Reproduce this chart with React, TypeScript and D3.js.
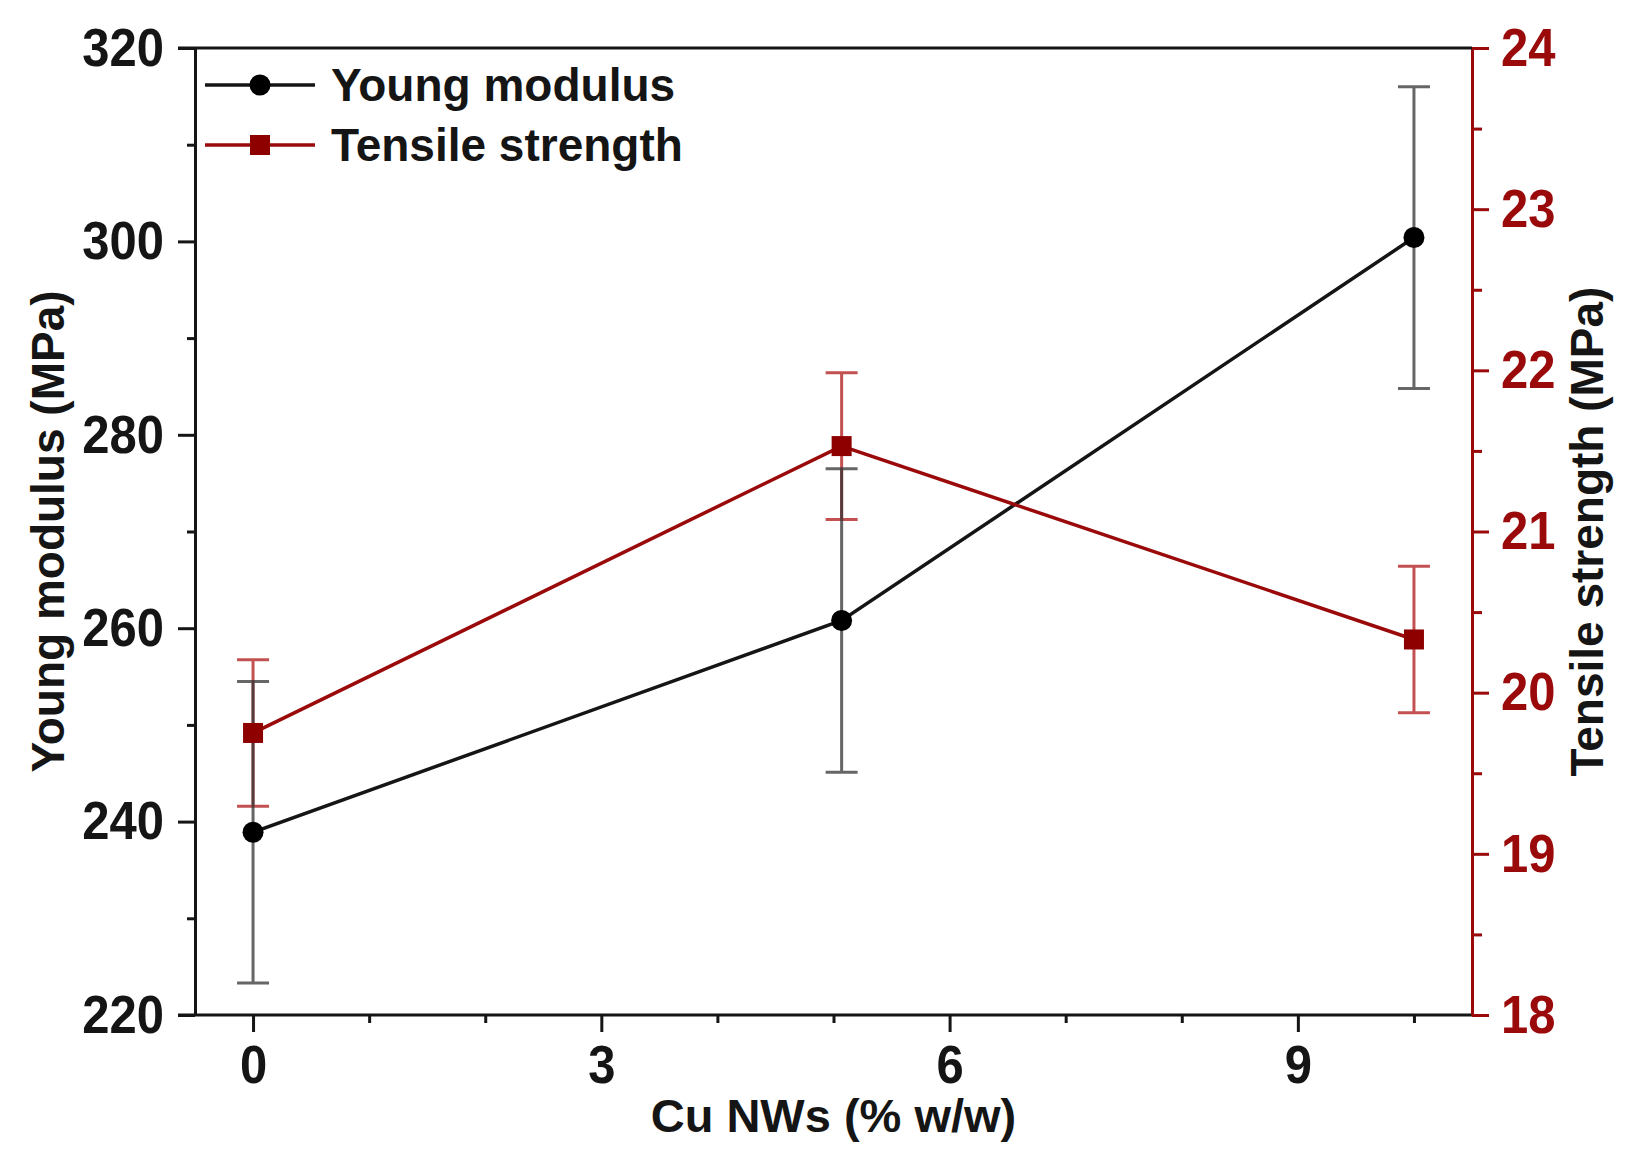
import * as d3 from "d3";
import { useEffect, useRef } from "react";

// Cu NWs content (% w/w)
const loadings = [0, 5.07, 10];
// Young modulus (MPa) and its error
const youngModulus = [238.9, 260.8, 300.4];
const youngErr = [15.6, 15.7, 15.6];
// Tensile strength (MPa) and its error
const tensileStrength = [19.75, 21.53, 20.33];
const tensileErr = [0.455, 0.455, 0.455];

const xTicks = [0, 3, 6, 9];
const xMinorTicks = [1, 2, 4, 5, 7, 8, 10];
const leftTicks = [220, 240, 260, 280, 300, 320];
const leftMinorTicks = [230, 250, 270, 290, 310];
const rightTicks = [18, 19, 20, 21, 22, 23, 24];
const rightMinorTicks = [18.5, 19.5, 20.5, 21.5, 22.5, 23.5];

const RED = "#9a0a0a";
const INK = "#151515";
const FONT = "'Liberation Sans', Arial, sans-serif";

export default function App() {
  const svgRef = useRef<SVGSVGElement>(null);

  useEffect(() => {
    document.body.style.margin = "0";
    render();
  }, []);

  const render = () => {
    const W = 1640;
    const H = 1164;
    const margin = { left: 195, right: 1640 - 1472, top: 48, bottom: 1164 - 1015 };
    const svg = d3.select(svgRef.current).attr("width", W).attr("height", H);
    svg.selectAll("*").remove();

    const bottom = H - margin.bottom;
    const right = W - margin.right;

    const x = d3.scaleLinear().domain([-0.5, 10.5]).range([margin.left, right]);
    const yL = d3.scaleLinear().domain([220, 320]).range([bottom, margin.top]);
    const yR = d3.scaleLinear().domain([18, 24]).range([bottom, margin.top]);

    const styleAxis = (g: d3.Selection<SVGGElement, unknown, null, undefined>, color: string, textColor: string) => {
      g.select(".domain").attr("stroke", color).attr("stroke-width", 3);
      g.selectAll(".tick line").attr("stroke", color).attr("stroke-width", 3);
      // 원본 글꼴이 세로로 조금 길어서 살짝 늘림
      g.selectAll(".tick text")
        .attr("font-family", FONT)
        .attr("font-weight", "bold")
        .attr("font-size", 49)
        .attr("transform", "scale(1,1.1)")
        .attr("fill", textColor);
    };
    const minor = (g: d3.Selection<SVGGElement, unknown, null, undefined>, color: string) => {
      g.select(".domain").remove();
      g.selectAll(".tick line").attr("stroke", color).attr("stroke-width", 3);
    };

    // x축
    const gx = svg
      .append("g")
      .attr("transform", `translate(0,${bottom})`)
      .call(d3.axisBottom(x).tickValues(xTicks).tickSize(17).tickPadding(10).tickSizeOuter(0).tickFormat(d3.format("d")));
    styleAxis(gx, INK, INK);
    gx.select(".domain").attr("d", `M${margin.left - 17},0H${right}`);
    minor(
      svg
        .append("g")
        .attr("transform", `translate(0,${bottom})`)
        .call(d3.axisBottom(x).tickValues(xMinorTicks).tickSize(8).tickFormat(() => "")),
      INK
    );

    // 왼쪽 y축
    const gl = svg
      .append("g")
      .attr("transform", `translate(${margin.left},0)`)
      .call(d3.axisLeft(yL).tickValues(leftTicks).tickSize(17).tickPadding(14).tickSizeOuter(0));
    styleAxis(gl, INK, INK);
    minor(
      svg
        .append("g")
        .attr("transform", `translate(${margin.left},0)`)
        .call(d3.axisLeft(yL).tickValues(leftMinorTicks).tickSize(8).tickFormat(() => "")),
      INK
    );

    // 오른쪽 y축
    const gr = svg
      .append("g")
      .attr("transform", `translate(${right},0)`)
      .call(d3.axisRight(yR).tickValues(rightTicks).tickSize(17).tickPadding(12).tickSizeOuter(0).tickFormat(d3.format("d")));
    styleAxis(gr, RED, RED);
    minor(
      svg
        .append("g")
        .attr("transform", `translate(${right},0)`)
        .call(d3.axisRight(yR).tickValues(rightMinorTicks).tickSize(10).tickFormat(() => "")),
      RED
    );

    // top frame line
    svg
      .append("line")
      .attr("x1", margin.left - 17)
      .attr("x2", right)
      .attr("y1", margin.top)
      .attr("y2", margin.top)
      .attr("stroke", INK)
      .attr("stroke-width", 3);

    // 에러바
    const cap = 16;
    const drawErr = (vals: number[], errs: number[], y: d3.ScaleLinear<number, number>, color: string) => {
      const g = svg.append("g").attr("stroke", color).attr("stroke-width", 3).attr("opacity", 0.75);
      vals.forEach((v, i) => {
        const cx = x(loadings[i]);
        g.append("line").attr("x1", cx).attr("x2", cx).attr("y1", y(v - errs[i])).attr("y2", y(v + errs[i]));
        g.append("line").attr("x1", cx - cap).attr("x2", cx + cap).attr("y1", y(v - errs[i])).attr("y2", y(v - errs[i]));
        g.append("line").attr("x1", cx - cap).attr("x2", cx + cap).attr("y1", y(v + errs[i])).attr("y2", y(v + errs[i]));
      });
    };
    drawErr(tensileStrength, tensileErr, yR, "#b01818");
    drawErr(youngModulus, youngErr, yL, "#333");

    // 선
    const lineL = d3.line<number>().x((d, i) => x(loadings[i])).y((d) => yL(d));
    const lineR = d3.line<number>().x((d, i) => x(loadings[i])).y((d) => yR(d));
    svg.append("path").attr("d", lineL(youngModulus)).attr("fill", "none").attr("stroke", INK).attr("stroke-width", 3.5);
    svg.append("path").attr("d", lineR(tensileStrength)).attr("fill", "none").attr("stroke", RED).attr("stroke-width", 3.5);

    svg
      .append("g")
      .selectAll("circle")
      .data(youngModulus)
      .join("circle")
      .attr("cx", (d, i) => x(loadings[i]))
      .attr("cy", (d) => yL(d))
      .attr("r", 10.5)
      .attr("fill", "#000");
    svg
      .append("g")
      .selectAll("rect")
      .data(tensileStrength)
      .join("rect")
      .attr("x", (d, i) => x(loadings[i]) - 10)
      .attr("y", (d) => yR(d) - 10)
      .attr("width", 20)
      .attr("height", 20)
      .attr("fill", "#8e0000");

    // 범례
    const legend = svg.append("g");
    const rows = [
      { label: "Young modulus", color: INK, shape: "circle", y: 85 },
      { label: "Tensile strength", color: RED, shape: "rect", y: 145 },
    ];
    rows.forEach((r) => {
      legend.append("line").attr("x1", 205).attr("x2", 315).attr("y1", r.y).attr("y2", r.y).attr("stroke", r.color).attr("stroke-width", 3.5);
      if (r.shape === "circle") {
        legend.append("circle").attr("cx", 260).attr("cy", r.y).attr("r", 10.5).attr("fill", "#000");
      } else {
        legend.append("rect").attr("x", 250).attr("y", r.y - 10).attr("width", 20).attr("height", 20).attr("fill", "#8e0000");
      }
      legend
        .append("text")
        .attr("x", 331)
        .attr("y", r.y + 16)
        .attr("font-family", FONT)
        .attr("font-weight", "bold")
        .attr("font-size", 46)
        .attr("fill", INK)
        .text(r.label);
    });

    // 축 제목
    svg
      .append("text")
      .attr("x", (margin.left + right) / 2)
      .attr("y", 1132)
      .attr("text-anchor", "middle")
      .attr("font-family", FONT)
      .attr("font-weight", "bold")
      .attr("font-size", 47)
      .attr("fill", INK)
      .text("Cu NWs (% w/w)");
    svg
      .append("text")
      .attr("transform", `translate(64,${(margin.top + bottom) / 2}) rotate(-90)`)
      .attr("text-anchor", "middle")
      .attr("font-family", FONT)
      .attr("font-weight", "bold")
      .attr("font-size", 46)
      .attr("fill", INK)
      .text("Young modulus (MPa)");
    svg
      .append("text")
      .attr("transform", `translate(1603,${(margin.top + bottom) / 2}) rotate(-90)`)
      .attr("text-anchor", "middle")
      .attr("font-family", FONT)
      .attr("font-weight", "bold")
      .attr("font-size", 46)
      .attr("fill", INK)
      .text("Tensile strength (MPa)");
  };

  return <svg ref={svgRef} style={{ display: "block" }}></svg>;
}
